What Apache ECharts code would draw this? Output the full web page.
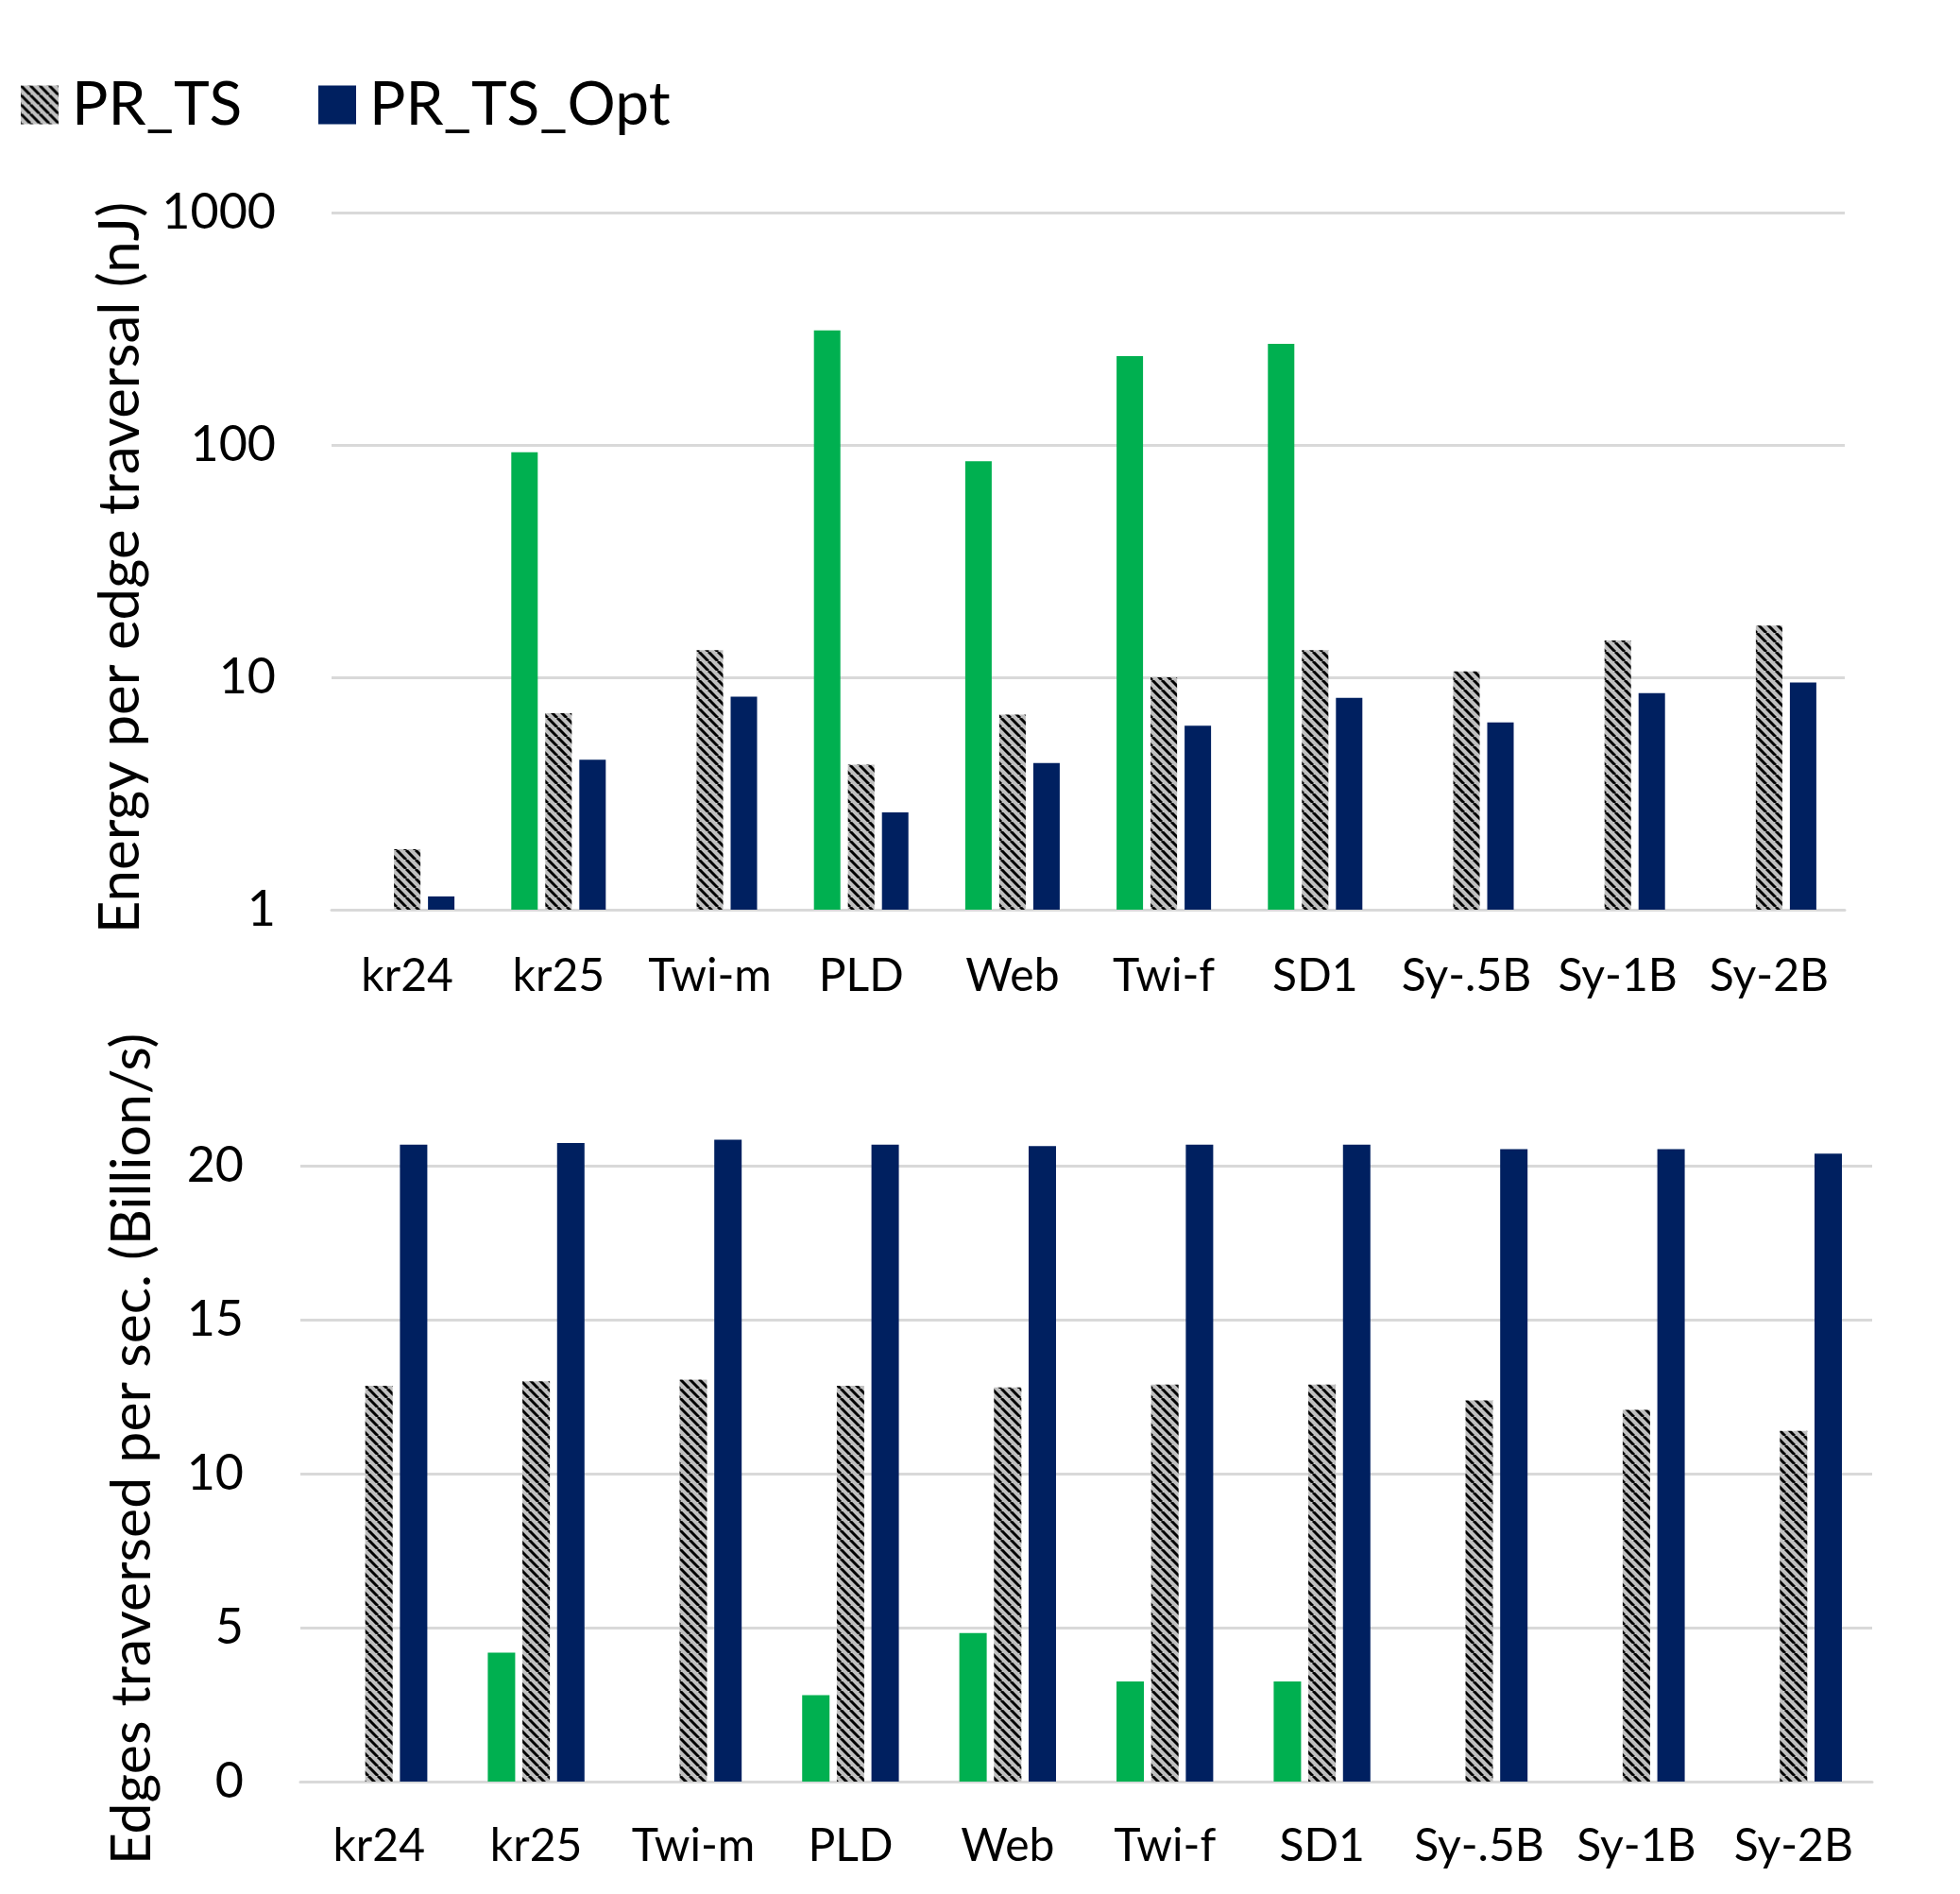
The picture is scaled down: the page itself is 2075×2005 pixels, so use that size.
<!DOCTYPE html>
<html>
<head>
<meta charset="utf-8">
<script src="https://cdn.jsdelivr.net/npm/echarts@6/dist/echarts.min.js"></script>
<style>
  html, body { margin: 0; padding: 0; background: #ffffff; }
  #chart { width: 2075px; height: 2005px; }
</style>
</head>
<body>
<div id="chart"></div>
<script>
const categories = ['kr24', 'kr25', 'Twi-m', 'PLD', 'Web', 'Twi-f', 'SD1', 'Sy-.5B', 'Sy-1B', 'Sy-2B'];

// top panel: energy per edge traversal (nJ), log scale
const energyOther = [null, 93, null, 311, 85, 241, 272, null, null, null];
const energyTS = [1.82, 7.0, 13.1, 4.21, 6.91, 10.0, 13.1, 10.6, 14.4, 16.7];
const energyOpt = [1.14, 4.42, 8.26, 2.62, 4.28, 6.19, 8.16, 6.4, 8.54, 9.49];

// bottom panel: edges traversed per second (billion/s)
const rateOther = [null, 4.19, null, 2.81, 4.82, 3.25, 3.25, null, null, null];
const rateTS = [12.85, 13.0, 13.05, 12.85, 12.8, 12.89, 12.89, 12.38, 12.07, 11.39];
const rateOpt = [20.68, 20.74, 20.84, 20.68, 20.64, 20.68, 20.68, 20.54, 20.54, 20.39];

const FONT = 'Lato, "Open Sans", sans-serif';
const GREEN = '#00b050';
const NAVY = '#002060';
const GRID_LINE = '#d9d9d9';

// grey swatch with black "\" stripes, like Excel's wide downward diagonal
function makeHatch() {
  const size = 10;
  const c = document.createElement('canvas');
  c.width = size;
  c.height = size;
  const ctx = c.getContext('2d');
  ctx.fillStyle = '#c0c0c0';
  ctx.fillRect(0, 0, size, size);
  ctx.strokeStyle = '#000000';
  ctx.lineWidth = 3;
  for (const x0 of [-size, 0, size]) {
    ctx.beginPath();
    ctx.moveTo(x0, 0);
    ctx.lineTo(x0 + size, size);
    ctx.stroke();
  }
  return c;
}
const hatch = { image: makeHatch(), repeat: 'repeat' };

const chart = echarts.init(document.getElementById('chart'), null, { renderer: 'canvas' });

const xAxisBase = (gridIndex, margin) => ({
  type: 'category',
  gridIndex,
  data: categories,
  axisLine: { show: true, lineStyle: { color: GRID_LINE, width: 3 } },
  axisTick: { show: false },
  axisLabel: { color: '#000', fontSize: 48, fontFamily: FONT, margin, lineHeight: 48, interval: 0 },
});

const barStyle = (gridIndex, width, gap) => ({
  type: 'bar',
  xAxisIndex: gridIndex,
  yAxisIndex: gridIndex,
  barWidth: width,
  barGap: gap,
  clip: false,
});

const legendText = { color: '#000', fontSize: 64, fontFamily: FONT, lineHeight: 41, padding: [0, 0, 0, 9] };

const option = {
  backgroundColor: '#ffffff',
  animation: false,
  legend: [
    {
      data: ['PR_TS'],
      left: 22, top: 79, padding: 0,
      icon: 'rect', itemWidth: 40, itemHeight: 41,
      textStyle: legendText,
    },
    {
      data: ['PR_TS_Opt'],
      left: 337, top: 79, padding: 0,
      icon: 'rect', itemWidth: 40, itemHeight: 41,
      textStyle: legendText,
    },
  ],
  grid: [
    { left: 351, right: 122, top: 225, height: 738 },
    { left: 318, right: 93, top: 1234, height: 652 },
  ],
  xAxis: [xAxisBase(0, 47), xAxisBase(1, 45)],
  yAxis: [
    {
      type: 'log',
      gridIndex: 0,
      logBase: 10,
      min: 1,
      max: 1000,
      axisLine: { show: false },
      axisTick: { show: false },
      axisLabel: {
        color: '#000', fontSize: 52, fontFamily: FONT, margin: 59,
        formatter: (v) => String(Math.round(v)),
      },
      splitLine: { lineStyle: { color: GRID_LINE, width: 3 } },
    },
    {
      type: 'value',
      gridIndex: 1,
      min: 0,
      max: 20,
      interval: 5,
      axisLine: { show: false },
      axisTick: { show: false },
      axisLabel: { color: '#000', fontSize: 52, fontFamily: FONT, margin: 60 },
      splitLine: { lineStyle: { color: GRID_LINE, width: 3 } },
    },
  ],
  graphic: [
    {
      type: 'text', x: 128, y: 601, rotation: Math.PI / 2,
      style: {
        text: 'Energy per edge traversal (nJ)',
        fontSize: 60, fontFamily: FONT, fill: '#000',
        align: 'center', verticalAlign: 'middle',
      },
    },
    {
      type: 'text', x: 140, y: 1534, rotation: Math.PI / 2,
      style: {
        text: 'Edges traversed per sec. (Billion/s)',
        fontSize: 59, fontFamily: FONT, fill: '#000',
        align: 'center', verticalAlign: 'middle',
      },
    },
  ],
  series: [
    { ...barStyle(0, 28, '28.6%'), name: 'Other', data: energyOther, itemStyle: { color: GREEN } },
    { ...barStyle(0, 28, '28.6%'), name: 'PR_TS', data: energyTS, itemStyle: { color: hatch } },
    { ...barStyle(0, 28, '28.6%'), name: 'PR_TS_Opt', data: energyOpt, itemStyle: { color: NAVY } },
    { ...barStyle(1, 29, '26.5%'), name: 'Other', data: rateOther, itemStyle: { color: GREEN } },
    { ...barStyle(1, 29, '26.5%'), name: 'PR_TS', data: rateTS, itemStyle: { color: hatch } },
    { ...barStyle(1, 29, '26.5%'), name: 'PR_TS_Opt', data: rateOpt, itemStyle: { color: NAVY } },
  ],
};

chart.setOption(option);
</script>
</body>
</html>
